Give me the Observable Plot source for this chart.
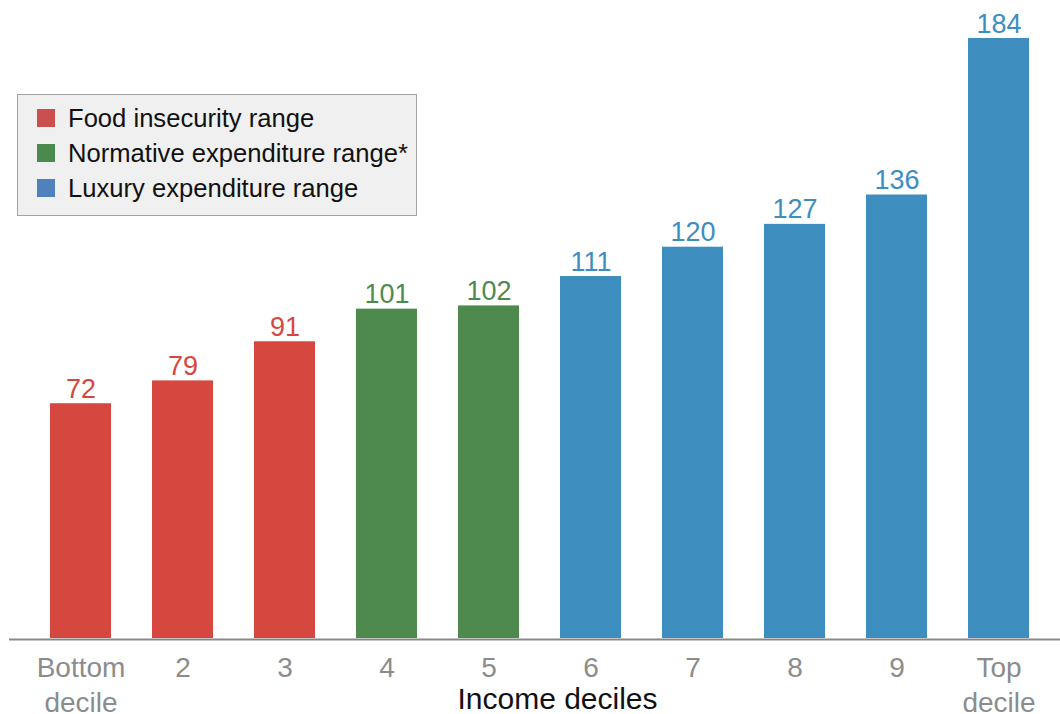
<!DOCTYPE html>
<html>
<head>
<meta charset="utf-8">
<script src="https://cdn.jsdelivr.net/npm/d3@7"></script>
<script src="https://cdn.jsdelivr.net/npm/@observablehq/plot@0.6"></script>
<style>
  html, body { margin: 0; padding: 0; background: #fff; }
  #wrap { position: relative; width: 1060px; height: 714px; font-family: "Liberation Sans", Arial, sans-serif; }
  #wrap svg { display: block; }
  .legend {
    position: absolute; left: 17px; top: 94px; width: 398px; height: 120px;
    background: #eff0ef; border: 1px solid #a3a3a3;
  }
  .legend .row { position: absolute; left: 19px; height: 18px; display: flex; align-items: center; }
  .legend .sw { width: 18px; height: 18px; margin-right: 13px; flex: none; }
  .legend .lab { font-size: 25.6px; color: #111; white-space: nowrap; line-height: 18px; }
</style>
</head>
<body>
<div id="wrap"></div>
<script>
// Income deciles along the x axis
const deciles = ["Bottom\ndecile", "2", "3", "4", "5", "6", "7", "8", "9", "Top\ndecile"];
// Value per decile
const values = [72, 79, 91, 101, 102, 111, 120, 127, 136, 184];
// Expenditure range each decile falls into
const rangeNames = ["Food insecurity range", "Normative expenditure range*", "Luxury expenditure range"];
const decileRange = [0, 0, 0, 1, 1, 2, 2, 2, 2, 2];
// Colours for bars and legend swatches
const barColors = ["#d6473f", "#4e8a4e", "#3e8dbf"];
const swatchColors = ["#c9504e", "#4a8a4f", "#4f81bd"];

const data = deciles.map((d, i) => ({
  decile: d,
  value: values[i],
  range: rangeNames[decileRange[i]]
}));

const chart = Plot.plot({
  width: 1060,
  height: 714,
  marginLeft: 30,
  marginRight: 10,
  marginTop: 38,
  marginBottom: 76,
  style: { fontFamily: "'Liberation Sans', Arial, sans-serif", background: "#fff" },
  x: { domain: deciles, paddingInner: 0.4, paddingOuter: 0.2 },
  y: { domain: [0, 184], axis: null },
  color: { domain: rangeNames, range: barColors },
  marks: [
    Plot.barY(data, { x: "decile", y: "value", fill: "range" }),
    Plot.ruleY([0], { stroke: "#888", strokeWidth: 2, dy: 1, insetLeft: -21, insetRight: -10 }),
    Plot.text(data, {
      x: "decile", y: "value", text: d => String(d.value), fill: "range",
      lineAnchor: "bottom", dy: -6, fontSize: 27
    }),
    Plot.axisX({
      tickSize: 0, tickPadding: 13, fontSize: 28, fill: "#8c8c8c",
      lineHeight: 1.27, label: null
    }),
    Plot.text(["Income deciles"], {
      frameAnchor: "bottom", dx: 17, dy: 70, fontSize: 30, fill: "#111"
    })
  ]
});

const wrap = document.getElementById("wrap");
wrap.appendChild(chart);

// Legend box over the plot area
const legend = document.createElement("div");
legend.className = "legend";
rangeNames.forEach((name, i) => {
  const row = document.createElement("div");
  row.className = "row";
  row.style.top = (14 + i * 35) + "px";
  const sw = document.createElement("div");
  sw.className = "sw";
  sw.style.background = swatchColors[i];
  const lab = document.createElement("div");
  lab.className = "lab";
  lab.textContent = name;
  row.appendChild(sw);
  row.appendChild(lab);
  legend.appendChild(row);
});
wrap.appendChild(legend);
</script>
</body>
</html>
